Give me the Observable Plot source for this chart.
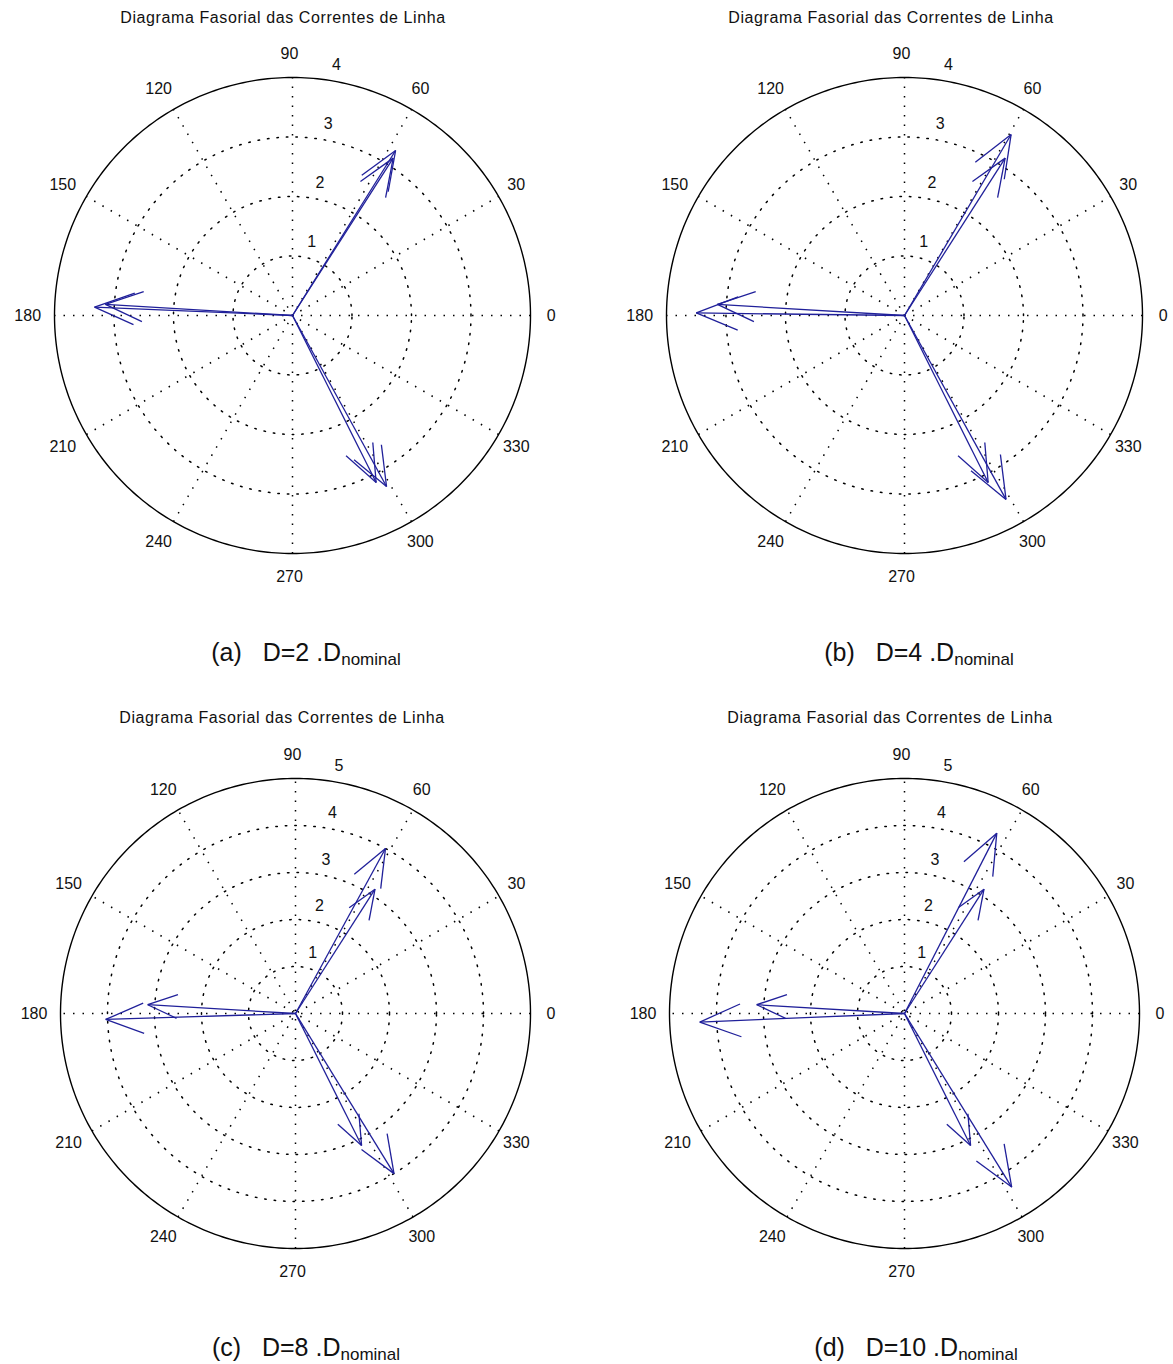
<!DOCTYPE html>
<html><head><meta charset="utf-8">
<script src="https://cdn.jsdelivr.net/npm/d3@7"></script>
<script src="https://cdn.jsdelivr.net/npm/@observablehq/plot@0.6"></script>
<style>
body{margin:0;background:#fff;width:1173px;height:1364px;position:relative;overflow:hidden;font-family:"Liberation Sans",Arial,sans-serif;}
.panel{position:absolute;}
.panel svg{max-width:none !important;}
.title{position:absolute;font-size:16px;letter-spacing:0.6px;white-space:nowrap;transform:translate(-50%,-50%);color:#111;}
.caption{position:absolute;font-size:25px;line-height:1;white-space:pre;transform:translate(-50%,-50%);color:#111;}
.caption sub{font-size:17px;line-height:1;vertical-align:-4px;}
</style></head><body>
<script>
// ---- data ----
const panelIds = ["a", "b", "c", "d"];
const dFactors = [2, 4, 8, 10];
const rMaxes = [4, 4, 5, 5];
const phaseNames = ["Ia", "Ib", "Ic"];
const angleTicks = [0, 30, 60, 90, 120, 150, 180, 210, 240, 270, 300, 330];
const titleText = "Diagrama Fasorial das Correntes de Linha";

// nominal phasors (shorter arrows, same in every panel)
const nominalMag = [3.14, 3.15, 3.14];
const nominalAng = [57.4, 176.6, 296.6];

// phasors for D = k . Dnominal
const caseMagA = [3.27, 3.33, 3.28];
const caseAngA = [58.0, 177.6, 298.8];
const caseMagB = [3.53, 3.50, 3.53];
const caseAngB = [59.5, 179.3, 298.9];
const caseMagC = [4.00, 4.04, 4.00];
const caseAngC = [61.4, 181.8, 301.6];
const caseMagD = [4.31, 4.36, 4.34];
const caseAngD = [62.9, 182.4, 301.7];
const caseMags = [caseMagA, caseMagB, caseMagC, caseMagD];
const caseAngs = [caseAngA, caseAngB, caseAngC, caseAngD];

// ---- layout ----
const centers = [[292, 315], [904, 315], [295, 1013], [904, 1013]];
const radiusPx = [238, 238, 235, 235];
const titlePos = [[283, 18], [891, 18], [282, 718], [890, 718]];
const captionPos = [[306, 654], [919, 654], [306, 1349], [916, 1349]];
const W = 600, H = 600;
const arrowColor = "#20209a";
const rad = Math.PI / 180;

function arrowSegments(mags, angs, set) {
  const segs = [];
  mags.forEach((m, i) => {
    const a = angs[i] * rad;
    const tx = m * Math.cos(a), ty = m * Math.sin(a);
    const bx = 0.8 * tx, by = 0.8 * ty;
    const px = -0.08 * ty, py = 0.08 * tx;
    segs.push({set, phase: phaseNames[i], x1: 0, y1: 0, x2: tx, y2: ty});
    segs.push({set, phase: phaseNames[i], x1: tx, y1: ty, x2: bx + px, y2: by + py});
    segs.push({set, phase: phaseNames[i], x1: tx, y1: ty, x2: bx - px, y2: by - py});
  });
  return segs;
}

panelIds.forEach((id, p) => {
  const rmax = rMaxes[p];
  const k = radiusPx[p] / rmax;
  const [cx, cy] = centers[p];
  const circ = (r, tag) => d3.range(0, 361, 1).map(t => ({ring: tag, x: r * Math.cos(t * rad), y: r * Math.sin(t * rad)}));
  const ringVals = d3.range(1, rmax);
  const rings = ringVals.flatMap(r => circ(r, r));
  const spokes = [30, 60, 90, 120, 150, 180].map(t => ({
    x1: -rmax * Math.cos(t * rad), y1: -rmax * Math.sin(t * rad),
    x2: rmax * Math.cos(t * rad), y2: rmax * Math.sin(t * rad)
  }));
  const segs = arrowSegments(caseMags[p], caseAngs[p], "case")
    .concat(arrowSegments(nominalMag, nominalAng, "nominal"));
  const ringLabels = d3.range(1, rmax + 1);

  const chart = Plot.plot({
    width: W, height: H, margin: 0,
    x: {domain: [-W / 2 / k, W / 2 / k], axis: null},
    y: {domain: [-H / 2 / k, H / 2 / k], axis: null},
    style: {background: "transparent", overflow: "visible", maxWidth: "none", fontFamily: "'Liberation Sans', Arial, sans-serif"},
    marks: [
      Plot.line(rings, {x: "x", y: "y", z: "ring", stroke: "#000", strokeWidth: 1.5, strokeDasharray: "1.5,8"}),
      Plot.link(spokes, {x1: "x1", y1: "y1", x2: "x2", y2: "y2", stroke: "#000", strokeWidth: 1.5, strokeDasharray: "1.5,8"}),
      Plot.line(circ(rmax, "outer"), {x: "x", y: "y", stroke: "#000", strokeWidth: 1.4}),
      Plot.text(angleTicks, {
        x: d => 1.1 * rmax * Math.cos(d * rad), y: d => 1.1 * rmax * Math.sin(d * rad),
        text: d => String(d), dx: -3, fontSize: 16, fill: "#111", letterSpacing: "0.8px"
      }),
      Plot.text(ringLabels, {
        x: d => (d + 0.05) * Math.cos(82 * rad), y: d => (d + 0.05) * Math.sin(82 * rad),
        text: d => String(d), textAnchor: "start", lineAnchor: "bottom", dx: 6, dy: -7, fontSize: 16, fill: "#111"
      }),
      Plot.link(segs, {x1: "x1", y1: "y1", x2: "x2", y2: "y2", stroke: arrowColor, strokeWidth: 1.3})
    ]
  });
  const div = document.createElement("div");
  div.className = "panel";
  div.style.left = (cx - W / 2) + "px";
  div.style.top = (cy - H / 2) + "px";
  div.appendChild(chart);
  document.body.appendChild(div);

  const t = document.createElement("div");
  t.className = "title";
  t.textContent = titleText;
  t.style.left = titlePos[p][0] + "px";
  t.style.top = titlePos[p][1] + "px";
  document.body.appendChild(t);

  const c = document.createElement("div");
  c.className = "caption";
  c.innerHTML = "(" + id + ")   D=" + dFactors[p] + " .D<sub>nominal</sub>";
  c.style.left = captionPos[p][0] + "px";
  c.style.top = captionPos[p][1] + "px";
  document.body.appendChild(c);
});
</script>
</body></html>
